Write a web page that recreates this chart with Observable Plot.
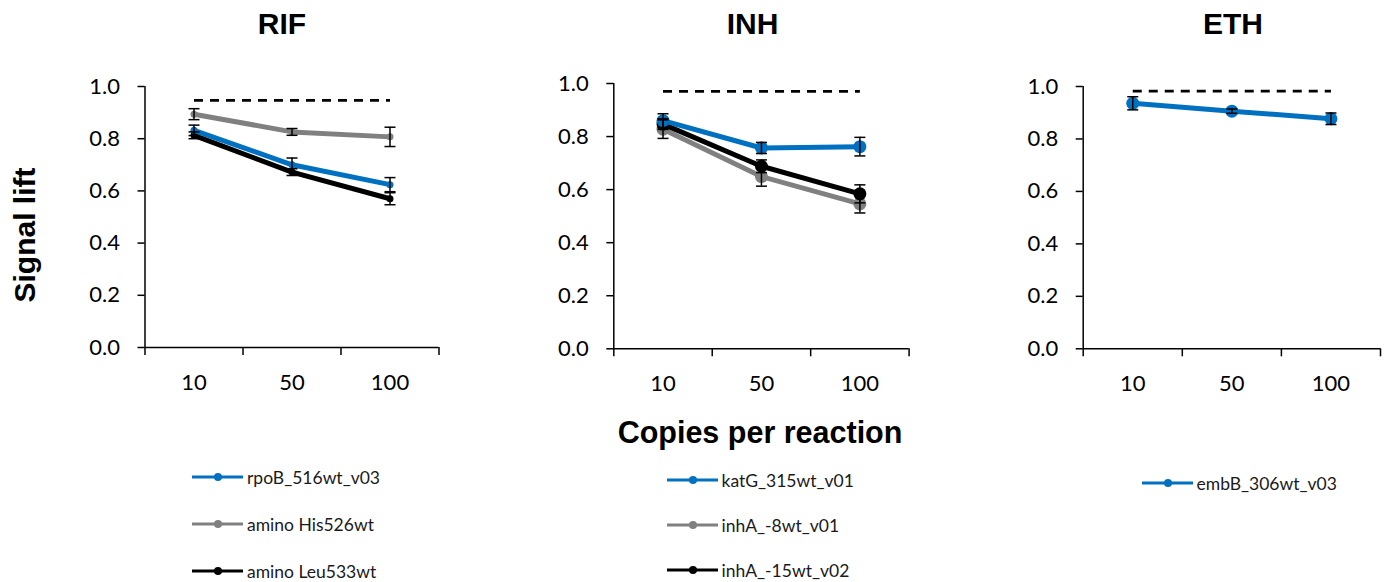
<!DOCTYPE html>
<html><head><meta charset="utf-8">
<script src="https://cdn.jsdelivr.net/npm/d3@7"></script>
<script src="https://cdn.jsdelivr.net/npm/@observablehq/plot@0.6"></script>
<style>
body{margin:0;background:#fff;}
#root{position:relative;width:1386px;height:582px;overflow:hidden;background:#fff;}
.panel{position:absolute;top:0;z-index:0;}
.txt{position:absolute;z-index:1;font-family:"Liberation Sans",Arial,sans-serif;font-weight:bold;font-size:30px;line-height:30px;white-space:nowrap;color:#000;text-align:center;}
.leg{position:absolute;z-index:1;display:flex;align-items:center;height:24px;font-family:Lato,sans-serif;font-size:17.5px;color:#1a1a1a;white-space:nowrap;}
.leg span{margin-left:4px;}
</style></head><body><div id="root"></div>
<script>
// ---- data ----
const categories = ["10", "50", "100"];
const yTicks = [0, 0.2, 0.4, 0.6, 0.8, 1.0];
const panelTitles = ["RIF", "INH", "ETH"];
const yTitle = "Signal lift";
const xTitle = "Copies per reaction";

// RIF
const rifNames = ["rpoB_516wt_v03", "amino His526wt", "amino Leu533wt"];
const rpoB516 = [0.832, 0.700, 0.624];
const rpoB516Err = [0.020, 0.026, 0.027];
const his526 = [0.894, 0.826, 0.807];
const his526Err = [0.021, 0.013, 0.037];
const leu533 = [0.813, 0.672, 0.570];
const leu533Err = [0.013, 0.013, 0.023];
const rifCutoff = [0.947, 0.947, 0.947];

// INH
const inhNames = ["katG_315wt_v01", "inhA_-8wt_v01", "inhA_-15wt_v02"];
const katG315 = [0.860, 0.757, 0.762];
const katG315Err = [0.026, 0.021, 0.035];
const inhA8 = [0.828, 0.649, 0.546];
const inhA8Err = [0.035, 0.036, 0.034];
const inhA15 = [0.847, 0.688, 0.584];
const inhA15Err = [0.020, 0.024, 0.034];
const inhCutoff = [0.970, 0.970, 0.970];

// ETH
const ethNames = ["embB_306wt_v03"];
const embB306 = [0.936, 0.906, 0.877];
const embB306Err = [0.025, 0.008, 0.022];
const ethCutoff = [0.982, 0.982, 0.982];

const BLUE = "#0070C0", GRAY = "#808080", BLACK = "#000000";

// ---- helpers ----
const rows = (vals, errs) => categories.map((c, i) => ({cat: c, xi: i + 0.5, v: vals[i], e: errs ? errs[i] : 0}));
const cap = {draw(ctx) { ctx.moveTo(-5.5, 0); ctx.lineTo(5.5, 0); }};

function panel(cfg) {
  const marks = [];
  marks.push(Plot.axisY({ticks: yTicks, tickSize: 7, tickPadding: 18, tickFormat: d3.format(".1f"), label: null, strokeWidth: 1.5}));
  marks.push(Plot.axisX({ticks: [0, 1, 2, 3], tickSize: 8, tickFormat: () => "", label: null, strokeWidth: 1.5}));
  marks.push(Plot.axisX({ticks: [0.5, 1.5, 2.5], tickSize: 0, tickPadding: 27, tickFormat: d => categories[Math.floor(d)], label: null}));
  marks.push(Plot.ruleY([0], {strokeWidth: 1.5}));
  marks.push(Plot.ruleX([0], {strokeWidth: 1.5}));
  marks.push(Plot.line(rows(cfg.cutoff), {x: "xi", y: "v", stroke: BLACK, strokeWidth: 2.8, strokeDasharray: "9,7", strokeLinecap: "butt"}));
  for (const s of cfg.series) {
    const d = rows(s.vals, s.errs);
    marks.push(Plot.line(d, {x: "xi", y: "v", stroke: s.color, strokeWidth: 5}));
    marks.push(Plot.dot(d, {x: "xi", y: "v", r: cfg.r, fill: s.color}));
  }
  for (const s of cfg.series) {
    const d = rows(s.vals, s.errs);
    marks.push(Plot.ruleX(d, {x: "xi", y1: q => q.v - q.e, y2: q => q.v + q.e, stroke: BLACK, strokeWidth: 1.5}));
    marks.push(Plot.dot(d, {x: "xi", y: q => q.v + q.e, symbol: cap, fill: "none", stroke: BLACK, strokeWidth: 1.5}));
    marks.push(Plot.dot(d, {x: "xi", y: q => q.v - q.e, symbol: cap, fill: "none", stroke: BLACK, strokeWidth: 1.5}));
  }
  const svg = Plot.plot({
    width: cfg.width, height: cfg.height,
    marginLeft: cfg.ml, marginRight: cfg.mr, marginTop: cfg.mt, marginBottom: cfg.height - cfg.y0,
    x: {type: "linear", domain: [0, 3], axis: null},
    y: {type: "linear", domain: [0, 1], axis: null},
    style: {background: "transparent", color: "#000", fontFamily: "Lato, sans-serif", fontSize: "22px", overflow: "visible"},
    marks
  });
  svg.classList.add("panel");
  svg.style.left = cfg.left + "px";
  return svg;
}

const root = document.getElementById("root");
root.appendChild(panel({
  left: 0, width: 460, height: 398, ml: 144.5, mr: 21.5, mt: 86, y0: 347, r: 3.5, cutoff: rifCutoff,
  series: [
    {vals: his526, errs: his526Err, color: GRAY},
    {vals: leu533, errs: leu533Err, color: BLACK},
    {vals: rpoB516, errs: rpoB516Err, color: BLUE}
  ]
}));
root.appendChild(panel({
  left: 470, width: 460, height: 398, ml: 143.3, mr: 21.4, mt: 83, y0: 348.3, r: 6.5, cutoff: inhCutoff,
  series: [
    {vals: inhA8, errs: inhA8Err, color: GRAY},
    {vals: inhA15, errs: inhA15Err, color: BLACK},
    {vals: katG315, errs: katG315Err, color: BLUE}
  ]
}));
root.appendChild(panel({
  left: 940, width: 446, height: 398, ml: 142.7, mr: 6, mt: 86, y0: 348.3, r: 6.5, cutoff: ethCutoff,
  series: [
    {vals: embB306, errs: embB306Err, color: BLUE}
  ]
}));

function addText(text, cx, top, extra) {
  const d = document.createElement("div");
  d.className = "txt";
  d.textContent = text;
  d.style.width = "400px";
  d.style.left = (cx - 200) + "px";
  d.style.top = top + "px";
  if (extra) Object.assign(d.style, extra);
  root.appendChild(d);
}
[[282, 0], [752.5, 1], [1233, 2]].forEach(([cx, i]) => addText(panelTitles[i], cx, 9));
addText(xTitle, 760, 416.5, {fontSize: "30.5px"});
addText(yTitle, 24.6, 220, {transform: "rotate(-90deg)", transformOrigin: "50% 50%"});

function legend(x, y, color, name) {
  const d = document.createElement("div");
  d.className = "leg";
  d.style.left = x + "px";
  d.style.top = (y - 12) + "px";
  d.innerHTML = `<svg width="51" height="12" style="overflow:visible"><line x1="0" x2="51" y1="6" y2="6" stroke="${color}" stroke-width="3"/><circle cx="26" cy="6" r="4" fill="${color}"/></svg><span>${name}</span>`;
  root.appendChild(d);
}
const legColors = [BLUE, GRAY, BLACK];
const rifLegY = [477, 524, 571];
rifNames.forEach((n, i) => legend(192, rifLegY[i], legColors[i], n));
const inhLegY = [480, 525, 570];
inhNames.forEach((n, i) => legend(666.5, inhLegY[i], legColors[i], n));
ethNames.forEach((n, i) => legend(1141.5, 483, BLUE, n));
</script></body></html>
